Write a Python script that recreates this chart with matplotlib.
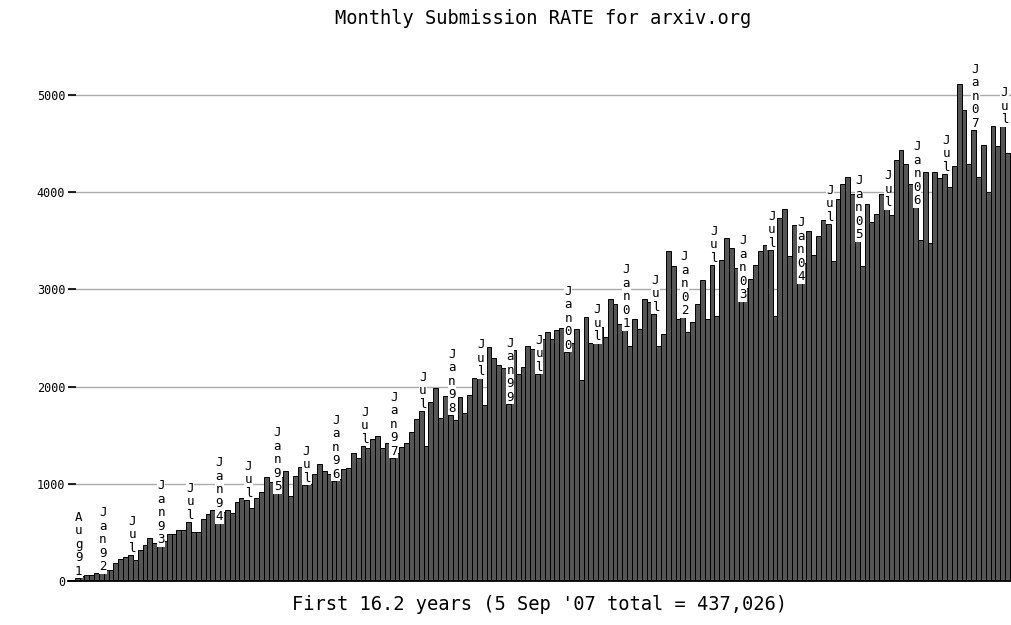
import numpy as np
import matplotlib
matplotlib.use("Agg")
import matplotlib.pyplot as plt

# monthly submissions, Aug 1991 .. Aug 2007
counts_1991 = [31, 52, 58, 58, 76]
counts_1992 = [79, 106, 112, 185, 220, 240, 265, 213, 316, 371, 436, 385]
counts_1993 = [357, 409, 484, 484, 522, 522, 608, 505, 505, 636, 687, 728]
counts_1994 = [590, 711, 728, 694, 814, 849, 832, 746, 849, 910, 1072, 1020]
counts_1995 = [900, 1072, 1134, 876, 1082, 1168, 986, 996, 1100, 1202, 1130, 1100]
counts_1996 = [1031, 1045, 1155, 1158, 1319, 1268, 1388, 1364, 1457, 1491, 1371, 1415]
counts_1997 = [1265, 1316, 1381, 1416, 1536, 1666, 1752, 1392, 1845, 1982, 1673, 1907]
counts_1998 = [1708, 1656, 1897, 1725, 1914, 2086, 2086, 1811, 2405, 2291, 2223, 2189]
counts_1999 = [1821, 2371, 2130, 2199, 2422, 2388, 2130, 2491, 2560, 2491, 2577, 2601]
counts_2000 = [2360, 2446, 2594, 2068, 2714, 2446, 2446, 2611, 2508, 2903, 2852, 2646]
counts_2001 = [2577, 2422, 2697, 2594, 2903, 2866, 2749, 2422, 2542, 3391, 3237, 2697]
counts_2002 = [2714, 2560, 2663, 2852, 3092, 2697, 3254, 2731, 3306, 3529, 3426, 3220]
counts_2003 = [2876, 3013, 3106, 3254, 3400, 3460, 3409, 2728, 3735, 3831, 3347, 3666]
counts_2004 = [3065, 3271, 3597, 3357, 3546, 3718, 3676, 3288, 3931, 4089, 4158, 3986]
counts_2005 = [3494, 3237, 3883, 3694, 3780, 3986, 3828, 3769, 4329, 4432, 4295, 4089]
counts_2006 = [3848, 3511, 4205, 3477, 4205, 4147, 4192, 4055, 4274, 5120, 4852, 4295]
counts_2007 = [4645, 4158, 4491, 4003, 4680, 4480, 4680, 4405]

counts = (counts_1991 + counts_1992 + counts_1993 + counts_1994 + counts_1995
          + counts_1996 + counts_1997 + counts_1998 + counts_1999 + counts_2000
          + counts_2001 + counts_2002 + counts_2003 + counts_2004 + counts_2005
          + counts_2006 + counts_2007)

start_year, start_month = 1991, 8
yticks = [0, 1000, 2000, 3000, 4000, 5000]
title = "Monthly Submission RATE for arxiv.org"
footer = "First 16.2 years (5 Sep '07 total = 437,026)"

MONO = "DejaVu Sans Mono"


def month_label(i):
    m = (start_month - 1 + i) % 12 + 1
    y = start_year + (start_month - 1 + i) // 12
    if i == 0:
        return "Aug%02d" % (y % 100)
    if m == 1:
        return "Jan%02d" % (y % 100)
    if m == 7:
        return "Jul"
    return None


W, H = 1011, 625
fig = plt.figure(figsize=(W / 100, H / 100), dpi=100)
px_per_k = 97.1
y0 = 580.7
ax = fig.add_axes([68 / W, (H - y0) / H, (W - 68) / W, 5.5 * px_per_k / H])

x = np.arange(len(counts))
ax.bar(x, counts, width=1.0, color="#555555", edgecolor="black",
       linewidth=0.7, zorder=2)

ax.set_xlim(-1.88, 192.7)
ax.set_ylim(0, 5500)
ax.set_yticks(yticks)
ax.set_yticklabels([str(v) for v in yticks], family=MONO, fontsize=8.5)
ax.yaxis.grid(True, color="#aaaaaa", linewidth=1.0, zorder=0)
ax.set_axisbelow(True)
ax.tick_params(axis="y", direction="in", length=6, width=1.2,
               color="black", pad=2)
ax.tick_params(axis="x", bottom=False, labelbottom=False)
for s in ["left", "top", "right"]:
    ax.spines[s].set_visible(False)
ax.spines["bottom"].set_linewidth(1.3)

for i, v in enumerate(counts):
    lab = month_label(i)
    if lab is None:
        continue
    ax.text(i + 0.33, v, "\n".join(lab), ha="center", va="bottom",
            family=MONO, fontsize=9, linespacing=1.05, zorder=3,
            clip_on=False,
            bbox=dict(facecolor="white", edgecolor="none", pad=0.4))

fig.text(543 / W, 1 - 19 / H, title, ha="center", va="center",
         family=MONO, fontsize=13.5)
fig.text(540 / W, 1 - 605 / H, footer, ha="center", va="center",
         family=MONO, fontsize=13.5)

fig.savefig("out.png", dpi=100)
